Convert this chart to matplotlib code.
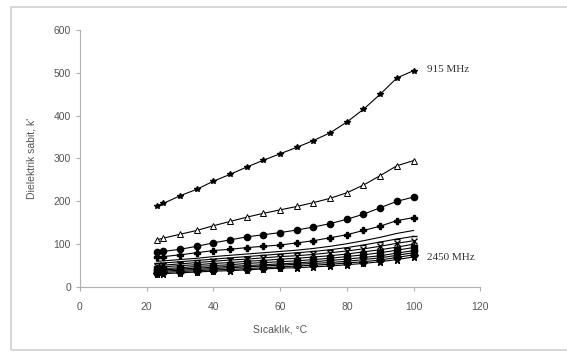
import matplotlib.pyplot as plt
from matplotlib.patches import Rectangle

plt.rcParams["font.family"] = "Liberation Sans"

# temperature (C)
sicaklik = [23, 25, 30, 35, 40, 45, 50, 55, 60, 65, 70, 75, 80, 85, 90, 95, 100]

# dielectric constant series, top (915 MHz) to bottom (2450 MHz)
s1 = [190, 195, 213, 228, 247, 263, 280, 296, 311, 326, 342, 360, 385, 415, 450, 488, 505]
s2 = [110, 114, 123, 132, 143, 153, 163, 172, 180, 188, 197, 207, 220, 238, 260, 283, 295]
s3 = [82, 83, 88, 95, 103, 110, 117, 122, 127, 133, 140, 148, 158, 170, 185, 200, 210]
s4 = [70, 71, 75, 80, 85, 88, 92, 95, 98, 103, 108, 115, 122, 132, 142, 155, 162]
s5 = [60, 61, 64, 67, 71, 74, 77, 80, 83, 86, 90, 95, 101, 108, 116, 125, 132]
s6 = [55, 56, 59, 62, 65, 68, 71, 74, 77, 80, 83, 87, 92, 98, 105, 112, 118]
s7 = [50, 51, 54, 57, 60, 63, 65, 68, 71, 73, 76, 80, 84, 89, 95, 102, 108]
s8 = [46, 47, 50, 52, 55, 57, 60, 62, 65, 67, 70, 73, 77, 82, 87, 93, 100]
s9 = [42, 43, 45, 48, 50, 52, 55, 57, 59, 61, 64, 67, 71, 75, 80, 86, 92]
s10 = [39, 40, 42, 44, 46, 48, 50, 52, 54, 56, 59, 62, 65, 69, 73, 79, 85]
s11 = [36, 37, 39, 41, 43, 45, 47, 49, 51, 53, 55, 57, 60, 64, 68, 74, 80]
s12 = [33, 34, 36, 38, 40, 41, 43, 45, 47, 49, 51, 53, 56, 59, 63, 69, 75]
s13 = [30, 31, 33, 35, 37, 38, 40, 42, 44, 45, 47, 49, 52, 55, 59, 64, 70]

seriler = [s1, s2, s3, s4, s5, s6, s7, s8, s9, s10, s11, s12, s13]
isaretler = ['*', '^', 'o', 'P', '', '_', 'x', '|', 's', 'o', '^', 'D', '*']

fig = plt.figure(figsize=(5.67, 3.53), dpi=100)
ax = fig.add_axes([0.141, 0.187, 0.706, 0.728])

for i, (s, m) in enumerate(zip(seriler, isaretler)):
    if i == 1:
        ax.plot(sicaklik, s, color='black', lw=0.8, marker=m, ms=4,
                mfc='white', mec='black', mew=0.7)
    elif i == 0:
        ax.plot(sicaklik, s, color='black', lw=0.8, marker=m, ms=3.8)
    else:
        ax.plot(sicaklik, s, color='black', lw=0.8, marker=m, ms=4.5)

ax.set_xlim(0, 120)
ax.set_ylim(0, 600)
ax.set_xticks(range(0, 121, 20))
ax.set_yticks(range(0, 601, 100))
for side in ['top', 'right']:
    ax.spines[side].set_visible(False)
for side in ['left', 'bottom']:
    ax.spines[side].set_color('#b0b0b0')
ax.tick_params(colors='#b0b0b0', labelcolor='#555555', labelsize=7.5,
               length=3, direction='out')
ax.tick_params(axis='x', pad=8)
ax.set_xlabel('Sıcaklık, °C', fontsize=7.5, color='#555555', labelpad=9)
ax.set_ylabel("Dielektrik sabit, k'", fontsize=7.5, color='#555555',
              labelpad=12)

ax.text(104, 507, '915 MHz', family='Liberation Serif', fontsize=8,
        va='center', color='#333333')
ax.text(104, 68, '2450 MHz', family='Liberation Serif', fontsize=8,
        va='center', color='#333333')

# chart border
fig.patches.append(Rectangle((11 / 567, 3 / 353), 1.2, 343 / 353,
                             transform=fig.transFigure, fill=False,
                             ec='#d0d0d0', lw=1.2))

plt.savefig('out.png')
